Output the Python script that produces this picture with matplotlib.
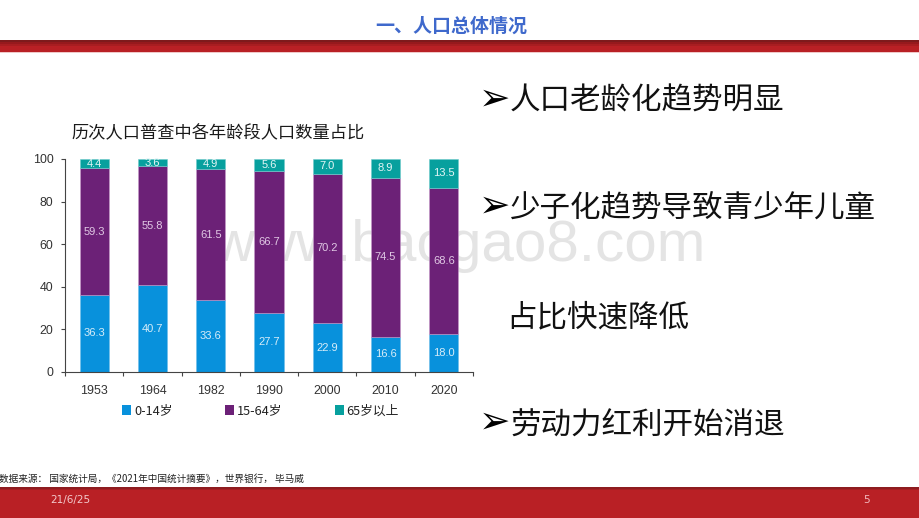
import matplotlib
matplotlib.use('Agg')
import matplotlib.pyplot as plt
from matplotlib.patches import Rectangle

plt.rcParams['font.family'] = ['Noto Sans CJK SC', 'DejaVu Sans']

years = ['1953', '1964', '1982', '1990', '2000', '2010', '2020']
age_0_14 = [36.3, 40.7, 33.6, 27.7, 22.9, 16.6, 18.0]
age_15_64 = [59.3, 55.8, 61.5, 66.7, 70.2, 74.5, 68.6]
age_65 = [4.4, 3.6, 4.9, 5.6, 7.0, 8.9, 13.5]
series_names = ['0-14岁', '15-64岁', '65岁以上']
series_colors = ['#0891DC', '#6C2177', '#07A09E']
edge_colors = ['#6FBDE8', '#C79BCB', '#70CBCB']
label_colors = ['#D6ECF8', '#E0C8E4', '#E4F6F6']
yticks = [0, 20, 40, 60, 80, 100]
bullets = ['人口老龄化趋势明显', '少子化趋势导致青少年儿童', '劳动力红利开始消退']
continuation = '占比快速降低'

W, H = 920, 518
fig = plt.figure(figsize=(W / 100, H / 100), dpi=100, facecolor='white')

def fx(x): return x / W
def fy(y): return 1 - y / H

# slide furniture
bg = fig.add_axes([0, 0, 1, 1], zorder=0)
bg.set_xlim(0, W); bg.set_ylim(H, 0); bg.axis('off')
for top, h, c in [(40, 2, '#7E1A1C'), (42, 2, '#96191D'), (44, 2, '#A81D21')]:
    bg.add_patch(Rectangle((0, top), W, h, color=c, lw=0))
bg.add_patch(Rectangle((0, 46), W, 6, color='#B92025', lw=0))
bg.add_patch(Rectangle((0, 52), W, 1, color='#F0C8C8', lw=0))
bg.add_patch(Rectangle((0, 487), W, 31, color='#B92025', lw=0))
bg.add_patch(Rectangle((0, 487), W, 1.5, color='#8E1C20', lw=0))
bg.add_patch(Rectangle((0, 488.5), W, 1.5, color='#A61E22', lw=0))
bg.add_patch(Rectangle((918.8, 52), 1.2, 435, color='#8E4A4E', lw=0))

fig.text(fx(451), fy(26), '一、人口总体情况', color='#3F69CC', fontsize=13.7,
         fontweight='bold', ha='center', va='center')
fig.text(fx(50), fy(500), '21/6/25', color='#F3C9CC', fontsize=7.5, ha='left', va='center',
         family='DejaVu Sans')
fig.text(fx(867), fy(500), '5', color='#F3B9BE', fontsize=7.5, ha='center', va='center',
         family='DejaVu Sans')
fig.text(fx(-1), fy(479), '数据来源： 国家统计局，《2021年中国统计摘要》，世界银行， 毕马威',
         color='#222222', fontsize=6.95, ha='left', va='center')

# watermark
fig.text(fx(459), fy(246), 'www.baogao8.com', color='#E4E4E4', fontsize=42,
         family='Liberation Sans', ha='center', va='center', zorder=1)

# chart
fig.text(fx(71), fy(133), '历次人口普查中各年龄段人口数量占比', color='#1A1A1A', fontsize=12.4,
         ha='left', va='center')

ax = fig.add_axes([fx(65), fy(372), (473 - 65) / W, (372 - 159) / H], zorder=2)
ax.patch.set_alpha(0)
x = list(range(len(years)))
bottom = [0] * len(years)
for vals, name, col, ec, lc in zip([age_0_14, age_15_64, age_65], series_names,
                                   series_colors, edge_colors, label_colors):
    ax.bar(x, vals, width=0.5, bottom=bottom, color=col, label=name,
           edgecolor=ec, linewidth=0.4)
    for xi, b, v in zip(x, bottom, vals):
        ax.text(xi, b + v / 2, f'{v:.1f}', color=lc, fontsize=8,
                ha='center', va='center', family='Liberation Sans')
    bottom = [b + v for b, v in zip(bottom, vals)]

ax.set_xlim(-0.5, 6.5)
ax.set_ylim(0, 100)
ax.set_yticks(yticks)
ax.set_xticks([i - 0.5 for i in range(8)], minor=False)
ax.set_xticklabels([''] * 8)
for xi, y in zip(x, years):
    ax.text(xi, -9.0, y, color='#333333', fontsize=8.9, ha='center', va='center',
            family='Liberation Sans')
ax.tick_params(axis='both', length=3.2, width=0.8, color='#444444')
ax.tick_params(axis='y', labelsize=8.9, labelcolor='#333333', pad=5)
for lab in ax.get_yticklabels():
    lab.set_family('Liberation Sans')
for s in ['top', 'right']:
    ax.spines[s].set_visible(False)
for s in ['left', 'bottom']:
    ax.spines[s].set_color('#444444')
    ax.spines[s].set_linewidth(0.8)

# legend
for lx, tx, name, col in zip([122, 225.5, 335], [134, 237, 346], series_names, series_colors):
    bg.add_patch(Rectangle((lx, 405), 9, 10, color=col, lw=0))
    fig.text(fx(tx), fy(411), name, color='#222222', fontsize=9.2, ha='left', va='center')

# bullet points
for y, dy, s in zip([100, 207, 423], [1, 2, 3], bullets):
    fig.text(fx(479), fy(y), '➢', color='black', fontsize=27, ha='left', va='center',
             family='DejaVu Sans')
    fig.text(fx(510), fy(y + dy), s, color='#111111', fontsize=22, ha='left', va='center')
fig.text(fx(506), fy(318), continuation, color='#111111', fontsize=22, ha='left', va='center')

fig.savefig('out.png', dpi=100)
